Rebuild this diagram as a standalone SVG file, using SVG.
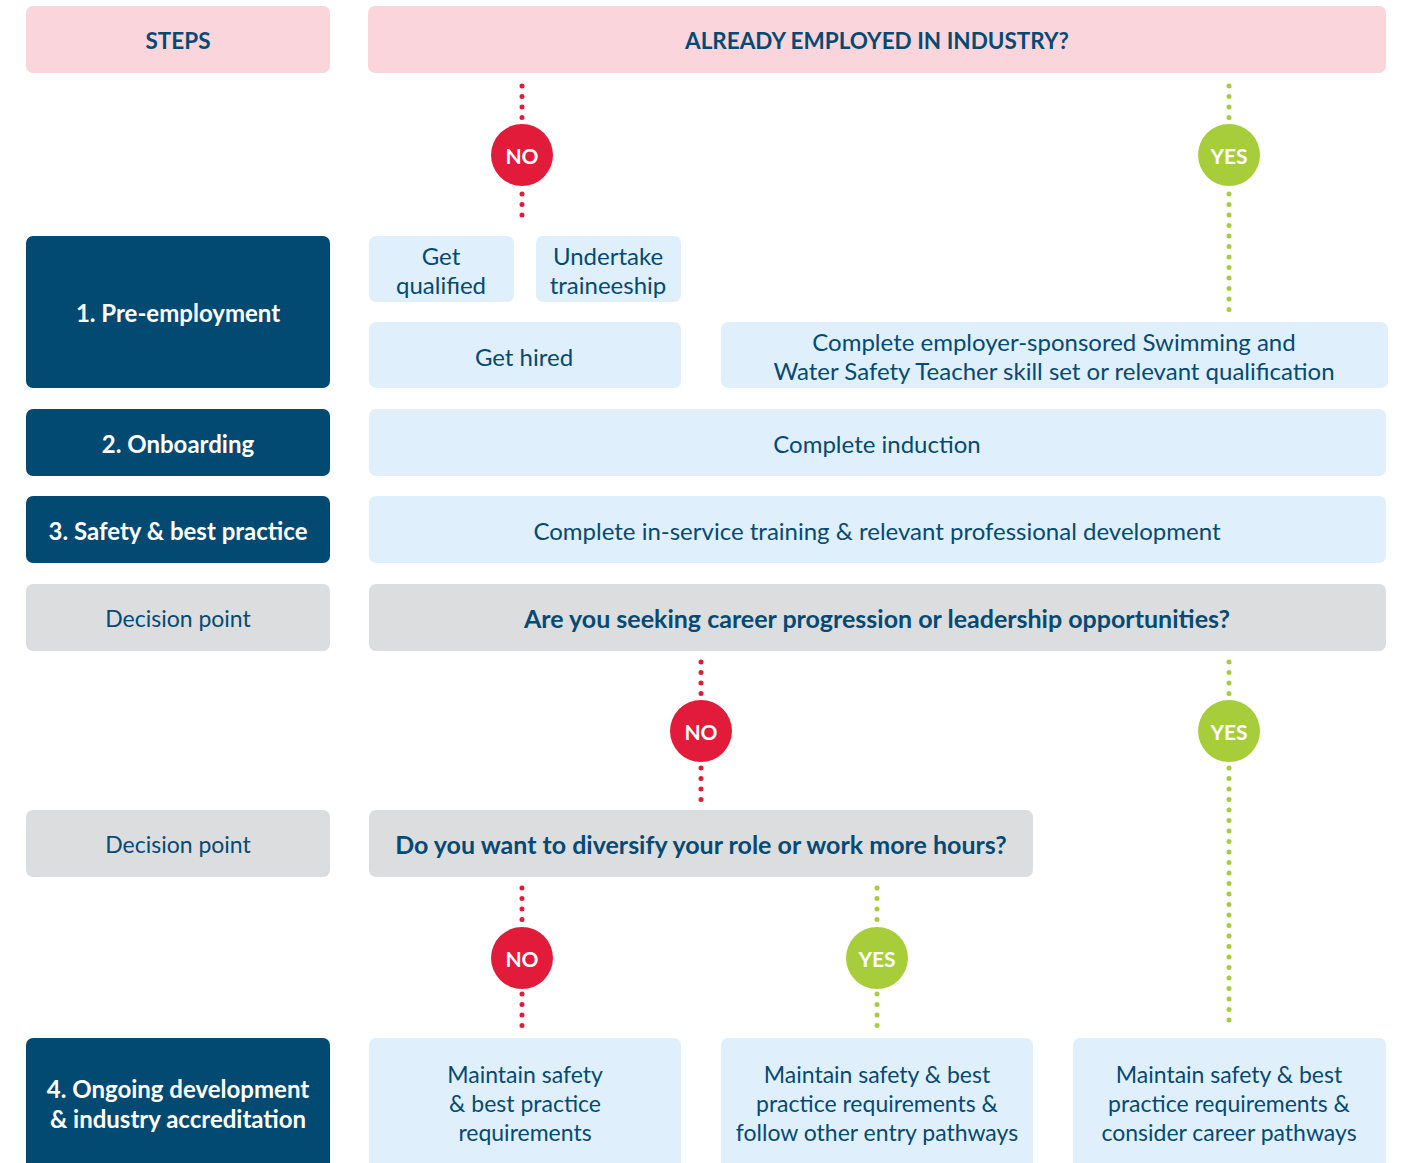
<svg xmlns="http://www.w3.org/2000/svg" width="1401" height="1163" viewBox="0 0 1401 1163">
<style>
.pink{fill:#fad6dc}.navy{fill:#034a73}.lb{fill:#dff0fc}.gr{fill:#dcdddf}
text{font-family:Lato,"Liberation Sans",sans-serif;text-anchor:middle;dominant-baseline:central}
.h{font-weight:700;font-size:22.5px;fill:#064a73}
.w{font-weight:700;font-size:24px;fill:#fff}
.t{font-size:24px;fill:#064a73}
.s{font-size:23px;fill:#064a73}
.q{font-weight:700;font-size:25px;fill:#064a73}
.red{stroke:#e31b3a}.grn{stroke:#a8cd3a}
.dot{stroke-width:5;stroke-linecap:round;stroke-dasharray:0 10.5;fill:none}
.bt{font-weight:700;font-size:21px;fill:#fff}
</style>
<g id="connectors">
<line class="dot red" x1="522" y1="86" x2="522" y2="118"/>
<line class="dot red" x1="522" y1="194" x2="522" y2="225"/>
<line class="dot grn" x1="1229" y1="86" x2="1229" y2="118"/>
<line class="dot grn" x1="1229" y1="194" x2="1229" y2="310"/>
<line class="dot red" x1="701" y1="662" x2="701" y2="694"/>
<line class="dot red" x1="701" y1="768" x2="701" y2="800"/>
<line class="dot grn" x1="1229" y1="662" x2="1229" y2="694"/>
<line class="dot grn" x1="1229" y1="768" x2="1229" y2="1027"/>
<line class="dot red" x1="522" y1="888" x2="522" y2="920"/>
<line class="dot red" x1="522" y1="994" x2="522" y2="1026"/>
<line class="dot grn" x1="877" y1="888" x2="877" y2="920"/>
<line class="dot grn" x1="877" y1="994" x2="877" y2="1026"/>
</g>
<g id="steps"><rect class="pink" x="26" y="6" width="304" height="67" rx="7"/><text class="h" x="178" y="40">STEPS</text></g>
<g id="employed"><rect class="pink" x="368" y="6" width="1018" height="67" rx="7"/><text class="h" x="877" y="40">ALREADY EMPLOYED IN INDUSTRY?</text></g>
<g id="no1"><circle cx="522" cy="155" r="31" fill="#e31b3a"/><text class="bt" x="522" y="155">NO</text></g>
<g id="yes1"><circle cx="1229" cy="155" r="31" fill="#a8cd3a"/><text class="bt" x="1229" y="155">YES</text></g>
<g id="pre"><rect class="navy" x="26" y="236" width="304" height="152" rx="7"/><text class="w" x="178" y="312">1. Pre-employment</text></g>
<g id="qualified"><rect class="lb" x="369" y="236" width="145" height="66" rx="7"/><text class="t" x="441" y="255">Get</text><text class="t" x="441" y="284">qualified</text></g>
<g id="trainee"><rect class="lb" x="536" y="236" width="145" height="66" rx="7"/><text class="t" x="608" y="255">Undertake</text><text class="t" x="608" y="284">traineeship</text></g>
<g id="hired"><rect class="lb" x="369" y="322" width="312" height="66" rx="7"/><text class="t" x="524" y="356">Get hired</text></g>
<g id="sponsored"><rect class="lb" x="721" y="322" width="667" height="66" rx="7"/><text class="t" x="1054" y="341">Complete employer-sponsored Swimming and</text><text class="t" x="1054" y="370">Water Safety Teacher skill set or relevant qualification</text></g>
<g id="onboard"><rect class="navy" x="26" y="409" width="304" height="67" rx="7"/><text class="w" x="178" y="443">2. Onboarding</text></g>
<g id="induction"><rect class="lb" x="369" y="409" width="1017" height="67" rx="7"/><text class="t" x="877" y="443">Complete induction</text></g>
<g id="safety"><rect class="navy" x="26" y="496" width="304" height="67" rx="7"/><text class="w" x="178" y="530">3. Safety &amp; best practice</text></g>
<g id="inservice"><rect class="lb" x="369" y="496" width="1017" height="67" rx="7"/><text class="t" x="877" y="530">Complete in-service training &amp; relevant professional development</text></g>
<g id="dp1"><rect class="gr" x="26" y="584" width="304" height="67" rx="7"/><text class="s" x="178" y="618">Decision point</text></g>
<g id="career"><rect class="gr" x="369" y="584" width="1017" height="67" rx="7"/><text class="q" x="877" y="618">Are you seeking career progression or leadership opportunities?</text></g>
<g id="no2"><circle cx="701" cy="731" r="31" fill="#e31b3a"/><text class="bt" x="701" y="731">NO</text></g>
<g id="yes2"><circle cx="1229" cy="731" r="31" fill="#a8cd3a"/><text class="bt" x="1229" y="731">YES</text></g>
<g id="dp2"><rect class="gr" x="26" y="810" width="304" height="67" rx="7"/><text class="s" x="178" y="844">Decision point</text></g>
<g id="diversify"><rect class="gr" x="369" y="810" width="664" height="67" rx="7"/><text class="q" x="701" y="844">Do you want to diversify your role or work more hours?</text></g>
<g id="no3"><circle cx="522" cy="958" r="31" fill="#e31b3a"/><text class="bt" x="522" y="958">NO</text></g>
<g id="yes3"><circle cx="877" cy="958" r="31" fill="#a8cd3a"/><text class="bt" x="877" y="958">YES</text></g>
<g id="ongoing"><rect class="navy" x="26" y="1038" width="304" height="140" rx="7"/><text class="w" x="178" y="1088">4. Ongoing development</text><text class="w" x="178" y="1118">&amp; industry accreditation</text></g>
<g id="m1"><rect class="lb" x="369" y="1038" width="312" height="140" rx="7"/><text class="s" x="525" y="1074">Maintain safety</text><text class="s" x="525" y="1103">&amp; best practice</text><text class="s" x="525" y="1132">requirements</text></g>
<g id="m2"><rect class="lb" x="721" y="1038" width="312" height="140" rx="7"/><text class="s" x="877" y="1074">Maintain safety &amp; best</text><text class="s" x="877" y="1103">practice requirements &amp;</text><text class="s" x="877" y="1132">follow other entry pathways</text></g>
<g id="m3"><rect class="lb" x="1073" y="1038" width="313" height="140" rx="7"/><text class="s" x="1229" y="1074">Maintain safety &amp; best</text><text class="s" x="1229" y="1103">practice requirements &amp;</text><text class="s" x="1229" y="1132">consider career pathways</text></g>
</svg>
